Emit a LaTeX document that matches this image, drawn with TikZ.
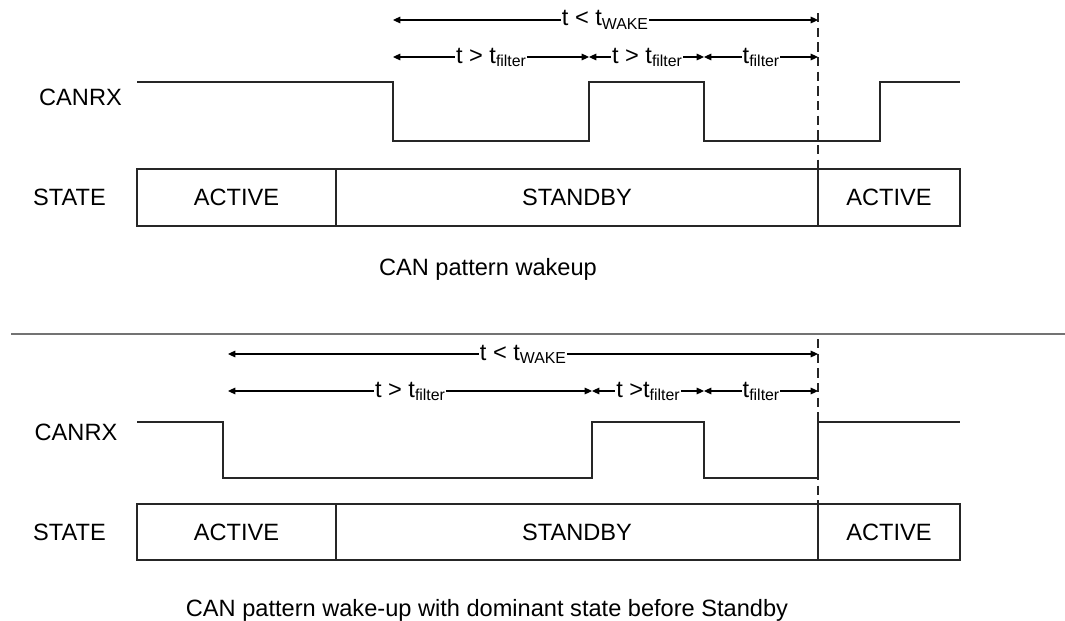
\documentclass[tikz,border=0pt]{standalone}
\usepackage{fontspec}
\setmainfont{Liberation Sans}
\usetikzlibrary{arrows.meta}
% lowered, smaller subscript for the timing labels
\newcommand{\lowsub}[1]{\raisebox{-2.5pt}{\fontsize{11.9}{12}\selectfont #1}}

\begin{document}
\begin{tikzpicture}[x=0.75pt,y=-0.75pt,
  every node/.style={font=\fontsize{17.7}{20}\selectfont, inner sep=0pt},
  wave/.style={line width=0.8pt, draw=black!85},
  frame/.style={line width=0.8pt, draw=black!85},
  dim/.style={line width=0.8pt, draw=black,
    {Triangle[length=5.5pt,width=5pt]}-{Triangle[length=5.5pt,width=5pt]}},
  lbl/.style={fill=white, inner xsep=0.6pt, inner ysep=1pt, anchor=base},
  txt/.style={anchor=base},
  marker/.style={line width=0.8pt, draw=black!85, dash pattern=on 7pt off 4pt},
  sep/.style={line width=1.2pt, draw=black!55}]
\useasboundingbox (0,0) rectangle (1065,621);

% ---------------- upper diagram: CAN pattern wakeup ----------------
\coordinate (ua0) at (393,20);
\coordinate (ua1) at (818,20);
\coordinate (ub0) at (393,57);
\coordinate (ub1) at (589,57);
\coordinate (ub2) at (704,57);
\coordinate (ub3) at (818,57);
\coordinate (umk0) at (818,13);
\coordinate (umk1) at (818,169);

\draw[marker] (umk0) -- (umk1);

\draw[dim] (ua0) -- (ua1);
\node[lbl] (uwake) at (605,26) {t < t\lowsub{WAKE}};
\draw[dim] (ub0) -- (ub1);
\draw[dim] (ub1) -- (ub2);
\draw[dim] (ub2) -- (ub3);
\node[lbl] (uf1) at (491,63) {t > t\lowsub{filter}};
\node[lbl] (uf2) at (647,63) {t > t\lowsub{filter}};
\node[lbl] (uf3) at (761,63) {t\lowsub{filter}};

\node[txt] (ucanrx) at (80.5,105) {CANRX};
\draw[wave] (137,82) -| (393,141) -| (589,82) -| (704,141) -| (880,82) -- (960,82);

\node[txt] (ustate) at (69.5,205) {STATE};
\draw[frame] (137,169) rectangle (960,226);
\draw[frame] (336,169) -- (336,226);
\draw[frame] (818,169) -- (818,226);
\node[txt] (uact1) at (236.5,205) {ACTIVE};
\node[txt] (ustby) at (577,205) {STANDBY};
\node[txt] (uact2) at (889,205) {ACTIVE};

\node[txt] (ucap) at (488,275) {CAN pattern wakeup};

% separator
\coordinate (sepL) at (11,334);
\coordinate (sepR) at (1065,334);
\draw[sep] (sepL) -- (sepR);

% ---------------- lower diagram: dominant state before Standby ----------------
\coordinate (la0) at (228,354);
\coordinate (la1) at (818,354);
\coordinate (lb0) at (228,391);
\coordinate (lb1) at (592,391);
\coordinate (lb2) at (704,391);
\coordinate (lb3) at (818,391);
\coordinate (lmk0) at (818,339);
\coordinate (lmk1) at (818,504);

\draw[marker] (lmk0) -- (lmk1);

\draw[dim] (la0) -- (la1);
\node[lbl] (lwake) at (523,360) {t < t\lowsub{WAKE}};
\draw[dim] (lb0) -- (lb1);
\draw[dim] (lb1) -- (lb2);
\draw[dim] (lb2) -- (lb3);
\node[lbl] (lf1) at (410,397) {t > t\lowsub{filter}};
\node[lbl] (lf2) at (648,397) {t >t\lowsub{filter}};
\node[lbl] (lf3) at (761,397) {t\lowsub{filter}};

\node[txt] (lcanrx) at (76,440) {CANRX};
\draw[wave] (137,422) -| (223,478) -| (592,422) -| (704,478) -| (818,422) -- (960,422);

\node[txt] (lstate) at (69.5,540) {STATE};
\draw[frame] (137,504) rectangle (960,560);
\draw[frame] (336,504) -- (336,560);
\draw[frame] (818,504) -- (818,560);
\node[txt] (lact1) at (236.5,540) {ACTIVE};
\node[txt] (lstby) at (577,540) {STANDBY};
\node[txt] (lact2) at (889,540) {ACTIVE};

\node[txt] (lcap) at (487,616) {CAN pattern wake-up with dominant state before Standby};
\end{tikzpicture}
\end{document}
